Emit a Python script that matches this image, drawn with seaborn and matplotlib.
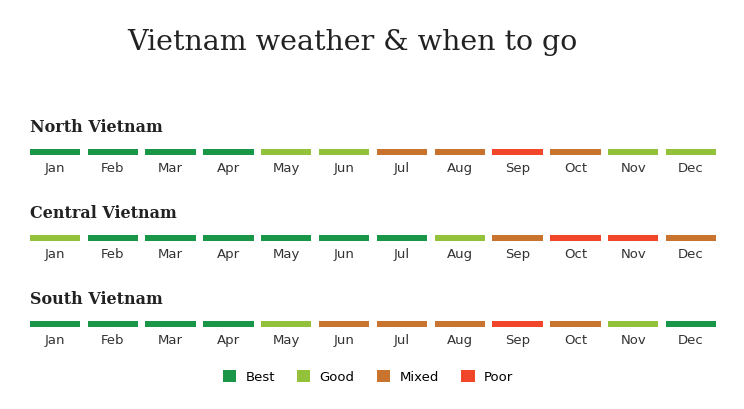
import matplotlib
matplotlib.use("Agg")
import matplotlib.pyplot as plt
from matplotlib.patches import Patch
import seaborn as sns
import pandas as pd

months = ["Jan", "Feb", "Mar", "Apr", "May", "Jun", "Jul", "Aug", "Sep", "Oct", "Nov", "Dec"]
regions = ["North Vietnam", "Central Vietnam", "South Vietnam"]
north = ["Best", "Best", "Best", "Best", "Good", "Good", "Mixed", "Mixed", "Poor", "Mixed", "Good", "Good"]
central = ["Good", "Best", "Best", "Best", "Best", "Best", "Best", "Good", "Mixed", "Poor", "Poor", "Mixed"]
south = ["Best", "Best", "Best", "Best", "Good", "Mixed", "Mixed", "Mixed", "Poor", "Mixed", "Good", "Best"]
levels = ["Best", "Good", "Mixed", "Poor"]
colors = {"Best": "#1a9648", "Good": "#93c13a", "Mixed": "#c8742f", "Poor": "#f2462a"}

W, H = 744, 409
fig = plt.figure(figsize=(W / 100, H / 100), dpi=100)
fig.text(352 / W, 1 - 42 / H, "Vietnam weather & when to go", ha="center", va="center",
         fontsize=20.5, family="DejaVu Serif", color="#222222")

bar_tops = [149, 235, 321]
for region, status, top in zip(regions, [north, central, south], bar_tops):
    ax = fig.add_axes([26 / W, 1 - (top + 6) / H, 694 / W, 6 / H])
    df = pd.DataFrame({"month": months, "v": [1] * 12, "status": status})
    sns.barplot(data=df, x="month", y="v", hue="status", palette=colors, dodge=False,
                width=0.87, legend=False, ax=ax, saturation=1)
    ax.set_xlim(-0.5, 11.5)
    ax.set_ylim(0, 1)
    ax.set_xlabel("")
    ax.set_ylabel("")
    ax.set_yticks([])
    ax.tick_params(axis="x", length=0, pad=5, labelsize=9.5, labelcolor="#333333")
    for s in ax.spines.values():
        s.set_visible(False)
    fig.text(30 / W, 1 - (top - 21) / H, region, ha="left", va="center", fontsize=11.5,
             fontweight="bold", family="DejaVu Serif", color="#222222")

handles = [Patch(facecolor=colors[l], label=l) for l in levels]
fig.legend(handles=handles, loc="center", bbox_to_anchor=(368 / W, 1 - 377 / H), ncol=4,
           frameon=False, fontsize=9.5, handlelength=1.0, handleheight=1.0, columnspacing=1.7,
           handletextpad=0.7)

fig.savefig("out.png", dpi=100)
